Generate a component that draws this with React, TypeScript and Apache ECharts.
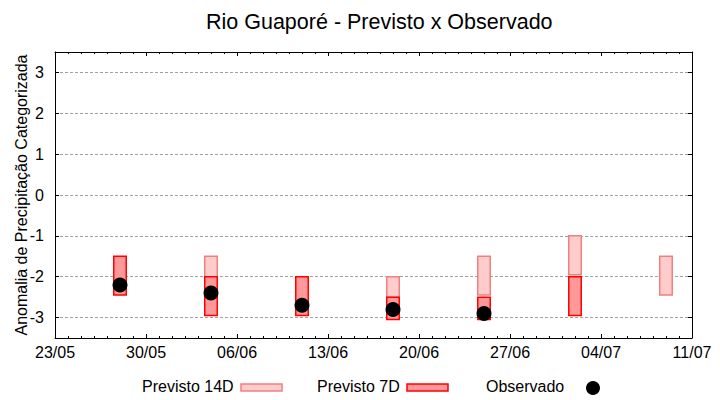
import React, { useEffect, useRef } from "react";
import * as echarts from "echarts";

// ---- data ----
const title = "Rio Guaporé - Previsto x Observado";
const yAxisName = "Anomalia de Precipitação Categorizada";
const startDate = "23/05";
const endDate = "11/07";

// Previsto 14D: [date, top, bottom]
const prev14Dates = ["04/06", "18/06", "25/06", "02/07", "09/07"];
const prev14Top = [-1.5, -2.0, -1.5, -1.0, -1.5];
const prev14Bottom = [-2.45, -2.5, -2.45, -1.95, -2.45];

// Previsto 7D
const prev7Dates = ["28/05", "04/06", "11/06", "18/06", "25/06", "02/07"];
const prev7Top = [-1.5, -2.0, -2.0, -2.5, -2.5, -2.0];
const prev7Bottom = [-2.45, -2.95, -2.95, -3.05, -3.05, -2.95];

// Observado
const obsDates = ["28/05", "04/06", "11/06", "18/06", "25/06"];
const obsValues = [-2.2, -2.4, -2.7, -2.8, -2.9];

const YEAR = 2023;
const DAY = 86400000;
function toUTC(s: string) {
  const [d, m] = s.split("/").map(Number);
  return Date.UTC(YEAR, m - 1, d);
}
const BASE = toUTC(startDate);
function dayOffset(s: string) {
  return Math.round((toUTC(s) - BASE) / DAY);
}
function fmt(v: number) {
  const dt = new Date(BASE + Math.round(v) * DAY);
  const dd = String(dt.getUTCDate()).padStart(2, "0");
  const mm = String(dt.getUTCMonth() + 1).padStart(2, "0");
  return dd + "/" + mm;
}

const C14_FILL = "#ffcccc";
const C14_STROKE = "#f08080";
const C7_FILL = "#ff9999";
const C7_STROKE = "#ff0000";
const FONT = "Liberation Sans, Arial, sans-serif";

function rectRenderer(fill: string, stroke: string) {
  return (params: any, api: any) => {
    const x = api.value(0);
    const top = api.value(1);
    const bot = api.value(2);
    const p1 = api.coord([x, top]);
    const p2 = api.coord([x, bot]);
    const w = api.size([1, 0])[0] * 0.96;
    return {
      type: "rect",
      shape: { x: p1[0] - w / 2, y: p1[1], width: w, height: p2[1] - p1[1] },
      style: { fill, stroke, lineWidth: 1.5 },
    };
  };
}

export default function App() {
  const ref = useRef<HTMLDivElement>(null);
  useEffect(() => {
    if (!ref.current) return;
    const chart = echarts.init(ref.current, undefined, { renderer: "svg" });
    const xMax = dayOffset(endDate);
    const d14 = prev14Dates.map((d, i) => [dayOffset(d), prev14Top[i], prev14Bottom[i]]);
    const d7 = prev7Dates.map((d, i) => [dayOffset(d), prev7Top[i], prev7Bottom[i]]);
    const dObs = obsDates.map((d, i) => [dayOffset(d), obsValues[i]]);

    const xCommon = {
      type: "value" as const,
      min: 0,
      max: xMax,
      interval: 7,
      axisLine: { show: true, onZero: false, lineStyle: { color: "#000", width: 1 } },
      axisTick: { show: true, inside: true, length: 4, lineStyle: { color: "#000" } },
      minorTick: { show: true, splitNumber: 7, length: 2, lineStyle: { color: "#000" } },
      splitLine: { show: false },
    };
    const yCommon = {
      type: "value" as const,
      min: -3.5,
      max: 3.5,
      splitNumber: 7,
      axisLine: { show: true, onZero: false, lineStyle: { color: "#000", width: 1 } },
      axisTick: { show: true, inside: true, length: 4, lineStyle: { color: "#000" } },
    };

    chart.setOption({
      animation: false,
      backgroundColor: "#fff",
      title: {
        text: title,
        left: 201,
        top: 6,
        textStyle: { fontFamily: FONT, fontSize: 21.5, fontWeight: "normal", color: "#000" },
      },
      grid: { left: 55, right: 28, top: 52, bottom: 62, containLabel: false },
      xAxis: [
        {
          ...xCommon,
          position: "bottom",
          axisLabel: {
            show: true,
            margin: 6,
            color: "#000",
            fontFamily: FONT,
            fontSize: 16,
            formatter: (v: number) => fmt(v),
          },
        },
        {
          ...xCommon,
          position: "top",
          axisLabel: { show: false },
        },
      ],
      yAxis: [
        {
          ...yCommon,
          position: "left",
          name: yAxisName,
          nameLocation: "middle",
          nameGap: 26,
          nameMoveOverlap: false,
          nameTextStyle: { fontFamily: FONT, fontSize: 16, color: "#000" },
          axisLabel: {
            show: true,
            margin: 11,
            color: "#000",
            fontFamily: FONT,
            fontSize: 16,
            formatter: (v: number) => (Math.abs(v - Math.round(v)) < 1e-6 ? String(Math.round(v)) : ""),
          },
          splitLine: { show: true, lineStyle: { color: "#a0a0a0", type: [3, 2], width: 1 } },
        },
        {
          ...yCommon,
          position: "right",
          axisLabel: { show: false },
          splitLine: { show: false },
        },
      ],
      graphic: [
        { type: "text", left: 142, top: 378, style: { text: "Previsto 14D", font: "16px " + FONT, fill: "#000" } },
        { type: "rect", shape: { x: 241, y: 384, width: 41, height: 7 }, style: { fill: C14_FILL, stroke: C14_STROKE, lineWidth: 1.5 } },
        { type: "text", left: 317, top: 378, style: { text: "Previsto 7D", font: "16px " + FONT, fill: "#000" } },
        { type: "rect", shape: { x: 407, y: 384, width: 41, height: 7 }, style: { fill: C7_FILL, stroke: C7_STROKE, lineWidth: 1.5 } },
        { type: "text", left: 486, top: 378, style: { text: "Observado", font: "16px " + FONT, fill: "#000" } },
        { type: "circle", shape: { cx: 593, cy: 388, r: 7 }, style: { fill: "#000" } },
      ],
      series: [
        {
          name: "Previsto 14D",
          type: "custom",
          xAxisIndex: 0,
          yAxisIndex: 0,
          renderItem: rectRenderer(C14_FILL, C14_STROKE),
          encode: { x: 0, y: [1, 2] },
          data: d14,
          z: 2,
        },
        {
          name: "Previsto 7D",
          type: "custom",
          xAxisIndex: 0,
          yAxisIndex: 0,
          renderItem: rectRenderer(C7_FILL, C7_STROKE),
          encode: { x: 0, y: [1, 2] },
          data: d7,
          z: 3,
        },
        {
          name: "Observado",
          type: "scatter",
          xAxisIndex: 0,
          yAxisIndex: 0,
          symbol: "circle",
          symbolSize: 15,
          itemStyle: { color: "#000", opacity: 1 },
          data: dObs,
          z: 4,
        },
      ],
    });
    return () => chart.dispose();
  }, []);
  return (
    <div
      ref={ref}
      style={{ position: "fixed", left: 0, top: 0, width: 720, height: 400, background: "#fff" }}
    />
  );
}
